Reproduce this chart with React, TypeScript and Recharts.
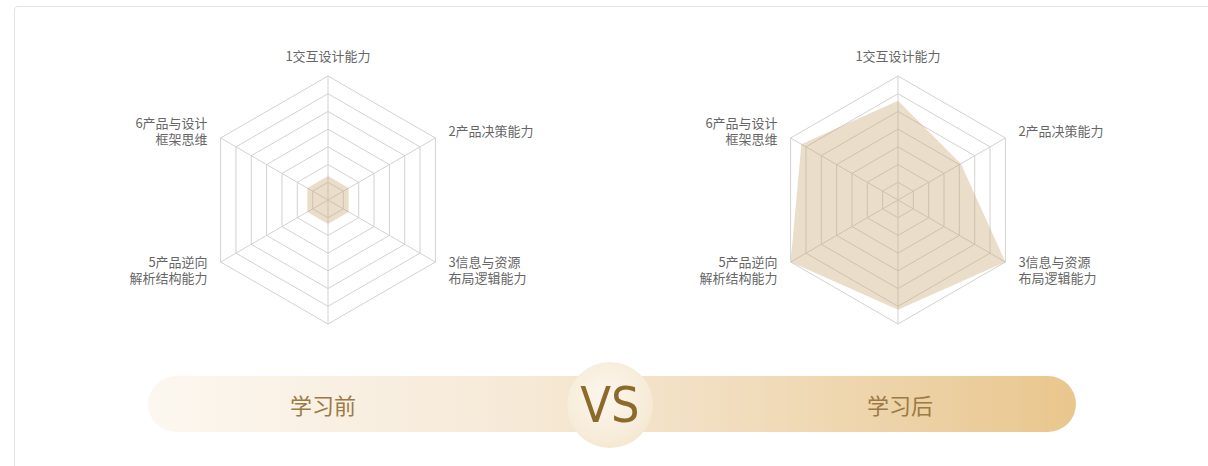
import React from "react";
import { RadarChart, Radar, PolarGrid, PolarAngleAxis, PolarRadiusAxis } from "recharts";

const categories = [
  "1交互设计能力",
  "2产品决策能力",
  "3信息与资源\n布局逻辑能力",
  "",
  "5产品逆向\n解析结构能力",
  "6产品与设计\n框架思维",
];
const beforeValues = [1.35, 1.35, 1.35, 1.35, 1.35, 1.35];
const afterValues = [5.6, 4.1, 7, 6.2, 7, 6.3];
const radiusDomain = [0, 7];
const radiusTickCount = 8;
const beforeLabel = "学习前";
const afterLabel = "学习后";
const vsLabel = "VS";

const beforeData = categories.map((c, i) => ({ name: c, value: beforeValues[i] }));
const afterData = categories.map((c, i) => ({ name: c, value: afterValues[i] }));

const CW = 560;
const CH = 330;
const CX = 280;
const CY = 200;
const OUTER = 124;
const FONT = '"Noto Sans CJK SC", "Noto Sans", sans-serif';

function AngleTick(props: any) {
  const { x, y, payload } = props;
  const text = String(payload?.value ?? "");
  if (!text) return null;
  const lines = text.split("\n");
  const dx = x - CX;
  const dy = y - CY;
  const len = Math.hypot(dx, dy) || 1;
  const ux = dx / len;
  const uy = dy / len;
  const side = Math.abs(ux) > 0.1;
  const R = side ? OUTER + 15 : OUTER + 21;
  const px = CX + ux * R;
  const py = CY + uy * R;
  const anchor = ux > 0.1 ? "start" : ux < -0.1 ? "end" : "middle";
  const lh = 16;
  const y0 = py - ((lines.length - 1) * lh) / 2;
  return (
    <g>
      {lines.map((l, i) => (
        <text
          key={i}
          x={px}
          y={y0 + i * lh}
          textAnchor={anchor}
          fill="#666"
          fontSize={13}
          fontFamily={FONT}
          dominantBaseline="central"
        >
          {l}
        </text>
      ))}
    </g>
  );
}

function MyRadar({ data }: { data: any[] }) {
  return (
    <RadarChart width={CW} height={CH} cx={CX} cy={CY} outerRadius={OUTER} data={data}>
      <PolarGrid stroke="#d2d2d2" strokeWidth={1} />
      <PolarAngleAxis dataKey="name" tick={<AngleTick />} tickLine={false} />
      <PolarRadiusAxis
        domain={radiusDomain}
        tickCount={radiusTickCount}
        tick={false}
        axisLine={false}
      />
      <Radar
        dataKey="value"
        stroke="none"
        fill="#c9a875"
        fillOpacity={0.38}
        isAnimationActive={false}
      />
    </RadarChart>
  );
}

export default function App() {
  return (
    <div
      style={{
        position: "absolute",
        left: 0,
        top: 0,
        width: 1208,
        height: 466,
        overflow: "hidden",
        background: "#fff",
      }}
    >
      <div
        style={{
          position: "absolute",
          left: 14,
          top: 6,
          width: 1400,
          height: 700,
          border: "1px solid #e4e4e4",
          borderRadius: 4,
        }}
      />
      <div style={{ position: "absolute", left: 48, top: 0 }}>
        <MyRadar data={beforeData} />
      </div>
      <div style={{ position: "absolute", left: 618, top: 0 }}>
        <MyRadar data={afterData} />
      </div>
      <div
        style={{
          position: "absolute",
          left: 148,
          top: 376,
          width: 928,
          height: 56,
          borderRadius: 28,
          background:
            "linear-gradient(90deg, #fcf7f0 0%, #f6e9d6 40%, #f2dfc2 60%, #ecd0a2 85%, #e9c68c 100%)",
        }}
      />
      <div
        style={{
          position: "absolute",
          left: 223,
          top: 376,
          width: 200,
          height: 56,
          lineHeight: "56px",
          textAlign: "center",
          fontFamily: FONT,
          fontSize: 22,
          color: "#9b7a45",
        }}
      >
        {beforeLabel}
      </div>
      <div
        style={{
          position: "absolute",
          left: 800,
          top: 376,
          width: 200,
          height: 56,
          lineHeight: "56px",
          textAlign: "center",
          fontFamily: FONT,
          fontSize: 22,
          color: "#9b7a45",
        }}
      >
        {afterLabel}
      </div>
      <div
        style={{
          position: "absolute",
          left: 567,
          top: 362,
          width: 86,
          height: 86,
          borderRadius: 43,
          background: "radial-gradient(circle at 45% 40%, #fcf6ec 0%, #f7ecd9 60%, #f2e1c4 100%)",
          display: "flex",
          alignItems: "center",
          justifyContent: "center",
          fontFamily: '"Liberation Sans Narrow", "DejaVu Sans Condensed", "Liberation Sans", sans-serif',
          fontSize: 50,
          fontWeight: 300,
          color: "#8c6a2c",
          lineHeight: 1,
        }}
      >
        {vsLabel}
      </div>
    </div>
  );
}
